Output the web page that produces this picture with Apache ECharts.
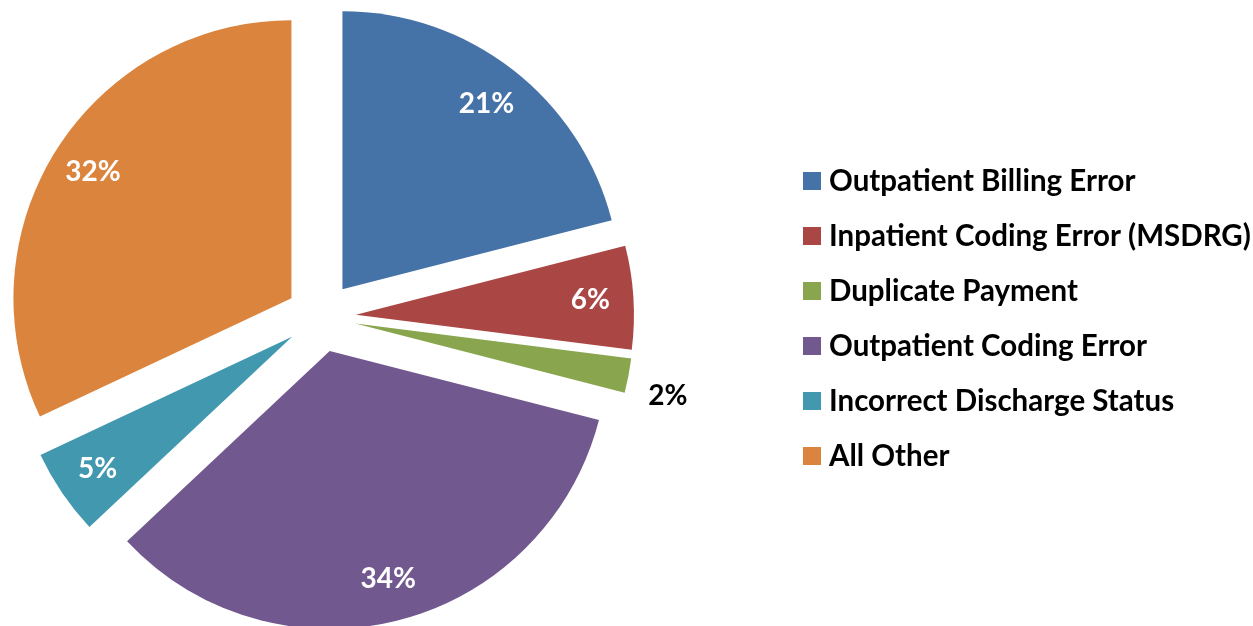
<!DOCTYPE html>
<html>
<head>
<meta charset="utf-8">
<script src="https://cdn.jsdelivr.net/npm/echarts@6/dist/echarts.min.js"></script>
<style>
  html, body { margin: 0; padding: 0; background: #fff; }
  #chart { width: 1253px; height: 626px; }
</style>
</head>
<body>
<div id="chart"></div>
<script>
const CATEGORIES = [
  "Outpatient Billing Error",
  "Inpatient Coding Error (MSDRG)",
  "Duplicate Payment",
  "Outpatient Coding Error",
  "Incorrect Discharge Status",
  "All Other"
];
const SHARES = [21, 6, 2, 34, 5, 32];
const COLORS = ["#4572A7", "#AA4643", "#89A54E", "#71588F", "#4198AF", "#DB843D"];

const FONT = "Lato, 'Open Sans', sans-serif";
const CENTER = [321, 317];
const R = 278;
const OFFSET = 35;

const chart = echarts.init(document.getElementById("chart"));

const sliceData = CATEGORIES.map((name, i) => ({
  name, value: SHARES[i], selected: true,
  itemStyle: { color: COLORS[i] }
}));

// transparent ring only used to place the labels further out than the default
const labelData = CATEGORIES.map((name, i) => ({
  name, value: SHARES[i], selected: true,
  label: i === 2
    ? { position: "outside", color: "#000" }
    : { position: "inside", color: "#fff" }
}));

chart.setOption({
  animation: false,
  legend: {
    orient: "vertical",
    left: 803,
    top: 166,
    padding: 0,
    itemWidth: 18,
    itemHeight: 18,
    itemGap: 25,
    icon: "rect",
    selectedMode: false,
    data: CATEGORIES,
    textStyle: { fontFamily: FONT, fontWeight: "bold", fontSize: 29.5, color: "#000", lineHeight: 29.5, padding: [0, 0, 0, 3] }
  },
  series: [
    {
      type: "pie",
      center: CENTER,
      radius: [0, R],
      startAngle: 90,
      selectedMode: "multiple",
      selectedOffset: OFFSET,
      emphasis: { disabled: true, scale: false },
      select: { itemStyle: { borderWidth: 0 } },
      label: { show: false },
      labelLine: { show: false },
      data: sliceData
    },
    {
      type: "pie",
      center: CENTER,
      radius: [186, R],
      startAngle: 90,
      silent: true,
      selectedMode: "multiple",
      selectedOffset: OFFSET,
      emphasis: { disabled: true, scale: false },
      select: { itemStyle: { borderWidth: 0, color: "transparent" } },
      itemStyle: { color: "transparent" },
      label: {
        show: true,
        formatter: "{c}%",
        fontFamily: FONT,
        fontWeight: "bold",
        fontSize: 28
      },
      labelLine: { show: false, length: 15, length2: 0 },
      labelLayout: p => p.dataIndex === 2 ? { dy: 18 } : {},
      data: labelData
    }
  ]
});
</script>
</body>
</html>
